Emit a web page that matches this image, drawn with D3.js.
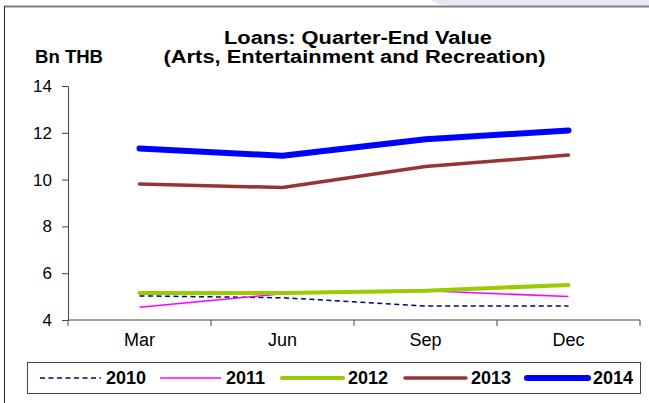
<!DOCTYPE html>
<html><head><meta charset="utf-8">
<script src="https://cdn.jsdelivr.net/npm/d3@7"></script>
<style>body{margin:0;background:#fff}svg{display:block}text{font-family:"Liberation Sans",Arial,sans-serif}</style>
</head><body><svg id="c" width="649" height="403"></svg>
<script>
const quarters = ["Mar","Jun","Sep","Dec"];
const years = ["2010","2011","2012","2013","2014"];
const v2010 = [5.03,4.95,4.6,4.6];
const v2011 = [4.55,5.12,5.25,5.0];
const v2012 = [5.15,5.15,5.25,5.5];
const v2013 = [9.81,9.66,10.56,11.05];
const v2014 = [11.33,11.02,11.72,12.1];
const yTicks = [4,6,8,10,12,14];
const seriesStyle = [
  {color:"#000080", w:1.5, dash:"5,3.5"},
  {color:"#ff00ff", w:1.5, dash:null},
  {color:"#99cc00", w:4, dash:null},
  {color:"#993333", w:3.5, dash:null},
  {color:"#0000ff", w:6, dash:null}
];
const values = [v2010,v2011,v2012,v2013,v2014];

const svg = d3.select("#c");
// decorative background at top-right
svg.append("path").attr("d","M430,0 L649,0 L649,6 L455,6 Q440,6 430,0 Z").attr("fill","#e8e8f4");
svg.append("line").attr("x1",4).attr("x2",649).attr("y1",6.5).attr("y2",6.5).attr("stroke","#808080").attr("stroke-width",2);
svg.append("line").attr("x1",4.5).attr("x2",4.5).attr("y1",6).attr("y2",403).attr("stroke","#222").attr("stroke-width",1);

const x = d3.scaleBand().domain(quarters).range([68,640]);
const y = d3.scaleLinear().domain([4,14]).range([320,86]);

// title
svg.append("text").attr("x",358).attr("y",44).attr("text-anchor","middle").attr("font-weight","bold").attr("font-size",18)
  .attr("textLength",268).attr("lengthAdjust","spacingAndGlyphs").text("Loans: Quarter-End Value");
svg.append("text").attr("x",354.5).attr("y",63).attr("text-anchor","middle").attr("font-weight","bold").attr("font-size",18)
  .attr("textLength",382).attr("lengthAdjust","spacingAndGlyphs").text("(Arts, Entertainment and Recreation)");
svg.append("text").attr("x",35).attr("y",63).attr("font-weight","bold").attr("font-size",17.5)
  .attr("textLength",68).attr("lengthAdjust","spacingAndGlyphs").text("Bn THB");

// axes
const ya = svg.append("g").attr("transform","translate(68,0)")
  .call(d3.axisLeft(y).tickValues(yTicks).tickSize(6).tickPadding(10).tickFormat(d3.format("d")));
ya.select(".domain").attr("stroke","#444");
ya.selectAll(".tick line").attr("stroke","#444");
ya.selectAll("text").attr("font-size",17).attr("font-family","Liberation Sans, Arial, sans-serif").attr("fill","#000");

const xa = svg.append("g").attr("transform","translate(0,320)")
  .call(d3.axisBottom(x).tickSize(0).tickPadding(13));
xa.select(".domain").attr("stroke","#444").attr("d","M68,0H640");
xa.selectAll("text").attr("font-size",18).attr("font-family","Liberation Sans, Arial, sans-serif").attr("fill","#000");
// band-boundary ticks
const bounds = quarters.map(q=>x(q)).concat([x.range()[1]]);
xa.selectAll(".btick").data(bounds).enter().append("line").attr("class","btick")
  .attr("x1",d=>d).attr("x2",d=>d).attr("y1",0).attr("y2",6).attr("stroke","#444");

// lines
const line = d3.line().x((d,i)=>x(quarters[i])+x.bandwidth()/2).y(d=>y(d));
values.forEach((vals,k)=>{
  const s = seriesStyle[k];
  svg.append("path").datum(vals).attr("d",line).attr("fill","none")
    .attr("stroke",s.color).attr("stroke-width",s.w).attr("stroke-linecap",k<=1?"butt":"round")
    .attr("stroke-linejoin","round").attr("stroke-dasharray",s.dash);
});

// legend
svg.append("rect").attr("x",27.5).attr("y",362.5).attr("width",613).attr("height",31).attr("fill","#fff").attr("stroke","#444");
const lx = [40,160,282,405,527];
years.forEach((yr,k)=>{
  const s = seriesStyle[k];
  svg.append("line").attr("x1",lx[k]).attr("x2",lx[k]+61).attr("y1",378).attr("y2",378)
    .attr("stroke",s.color).attr("stroke-width",s.w).attr("stroke-dasharray",s.dash)
    .attr("stroke-linecap",k>=2?"round":"butt");
  svg.append("text").attr("x",lx[k]+66).attr("y",384).attr("font-weight","bold").attr("font-size",18).text(yr);
});
</script></body></html>
